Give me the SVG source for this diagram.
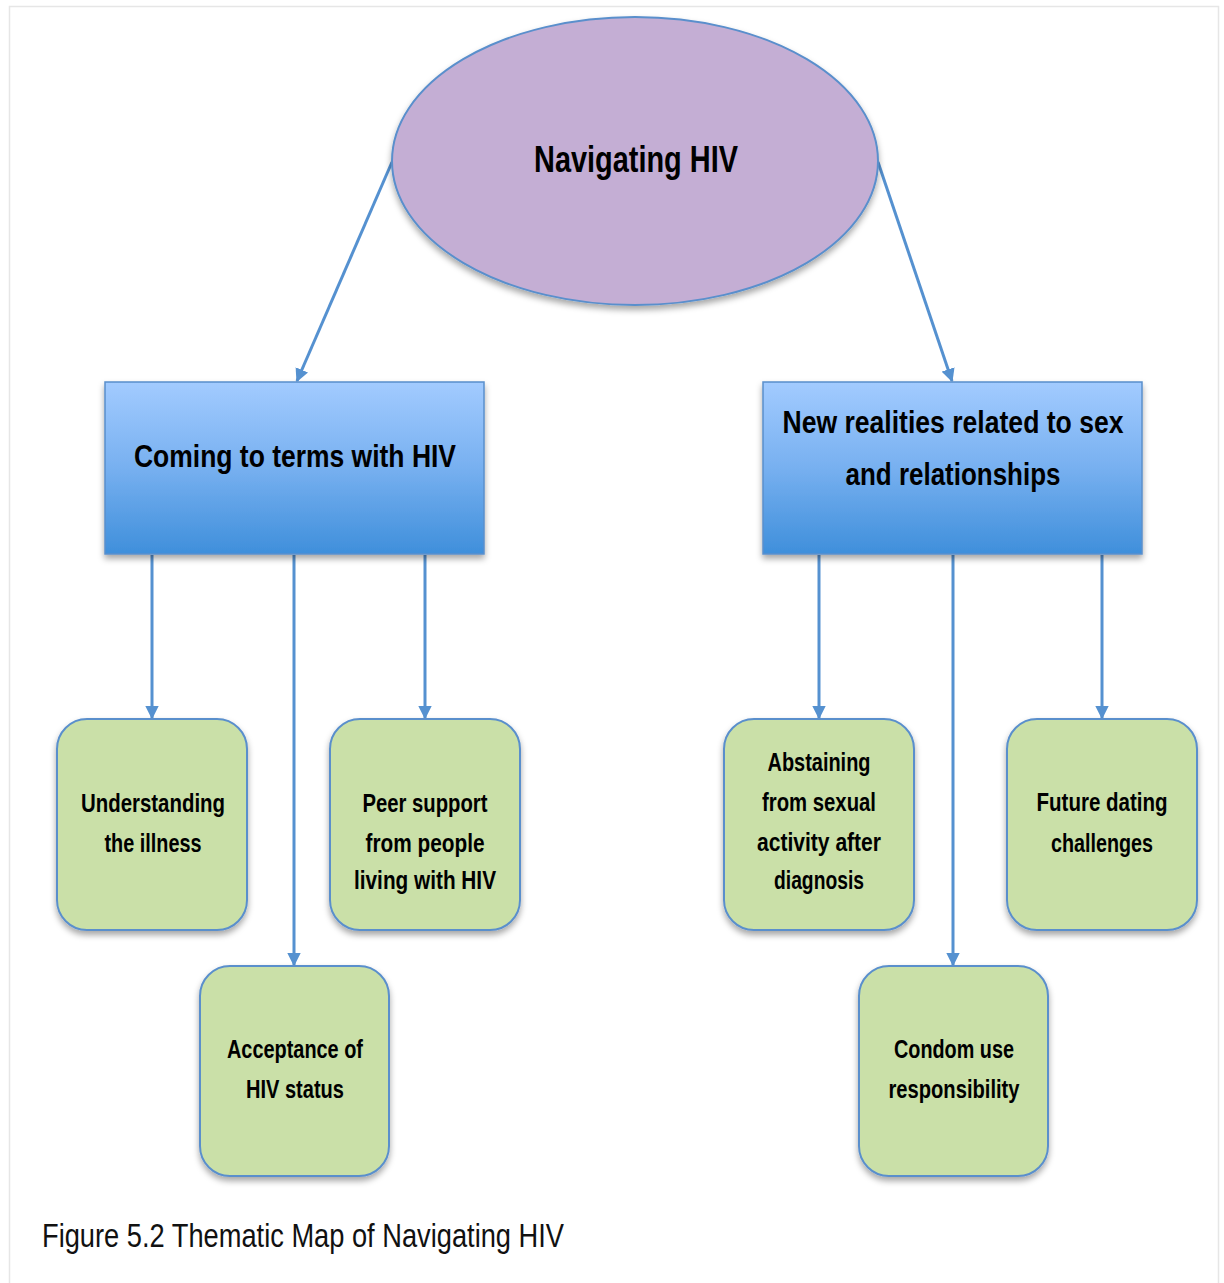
<svg xmlns="http://www.w3.org/2000/svg" width="1224" height="1283" viewBox="0 0 1224 1283">
<style>
.t{font-family:"Liberation Sans",Arial,sans-serif;font-weight:bold;fill:#000;text-anchor:middle}
.g{fill:#cae0a8;stroke:#5a8fcc;stroke-width:2}
.c{stroke:#5591d0;stroke-width:3;fill:none;marker-end:url(#ah)}
</style>
<defs>
<linearGradient id="bg" x1="0" y1="0" x2="0" y2="1">
<stop offset="0" stop-color="#a2cbff"/>
<stop offset="0.5" stop-color="#77b0f0"/>
<stop offset="1" stop-color="#3f8fdb"/>
</linearGradient>
<filter id="sh" x="-10%" y="-10%" width="125%" height="125%">
<feDropShadow dx="0" dy="4" stdDeviation="3" flood-color="#000" flood-opacity="0.35"/>
</filter>
<marker id="ah" viewBox="0 0 10 10" refX="9" refY="5" markerWidth="4.5" markerHeight="4.5" markerUnits="strokeWidth" orient="auto">
<path d="M0,0 L10,5 L0,10 z" fill="#5591d0"/>
</marker>
</defs>
<rect x="0" y="0" width="1224" height="1283" fill="#fff"/>
<path d="M9.5,1283 V6.5 H1218.5 V1283" fill="none" stroke="#e6e6e6" stroke-width="1.5"/>

<g id="connectors">
<line class="c" x1="392" y1="162" x2="297" y2="381"/>
<line class="c" x1="878" y1="162" x2="952" y2="381"/>
<line class="c" x1="152" y1="555" x2="152" y2="718"/>
<line class="c" x1="294" y1="555" x2="294" y2="965"/>
<line class="c" x1="425" y1="555" x2="425" y2="718"/>
<line class="c" x1="819" y1="555" x2="819" y2="718"/>
<line class="c" x1="953" y1="555" x2="953" y2="965"/>
<line class="c" x1="1102" y1="555" x2="1102" y2="718"/>
</g>

<g id="root">
<ellipse cx="635" cy="161" rx="243" ry="144" fill="#c4aed4" stroke="#5a8fcc" stroke-width="2" filter="url(#sh)"/>
<text class="t" x="636" y="172" font-size="36" textLength="204" lengthAdjust="spacingAndGlyphs">Navigating HIV</text>
</g>

<g id="theme1">
<rect x="105" y="382" width="379" height="172" fill="url(#bg)" stroke="#5a8fcc" stroke-width="1.5" filter="url(#sh)"/>
<text class="t" x="295" y="467" font-size="32" textLength="322" lengthAdjust="spacingAndGlyphs">Coming to terms with HIV</text>
</g>

<g id="theme2">
<rect x="763" y="382" width="379" height="172" fill="url(#bg)" stroke="#5a8fcc" stroke-width="1.5" filter="url(#sh)"/>
<text class="t" x="953" y="433" font-size="32" textLength="341" lengthAdjust="spacingAndGlyphs">New realities related to sex</text>
<text class="t" x="953" y="485" font-size="32" textLength="215" lengthAdjust="spacingAndGlyphs">and relationships</text>
</g>

<g id="understanding">
<rect class="g" x="57" y="719" width="190" height="211" rx="30" filter="url(#sh)"/>
<text class="t" x="153" y="812" font-size="26" textLength="144" lengthAdjust="spacingAndGlyphs">Understanding</text>
<text class="t" x="153" y="852" font-size="26" textLength="97" lengthAdjust="spacingAndGlyphs">the illness</text>
</g>

<g id="acceptance">
<rect class="g" x="200" y="966" width="189" height="210" rx="30" filter="url(#sh)"/>
<text class="t" x="295" y="1058" font-size="26" textLength="136" lengthAdjust="spacingAndGlyphs">Acceptance of</text>
<text class="t" x="295" y="1098" font-size="26" textLength="98" lengthAdjust="spacingAndGlyphs">HIV status</text>
</g>

<g id="peer">
<rect class="g" x="330" y="719" width="190" height="211" rx="30" filter="url(#sh)"/>
<text class="t" x="425" y="812" font-size="26" textLength="125" lengthAdjust="spacingAndGlyphs">Peer support</text>
<text class="t" x="425" y="852" font-size="26" textLength="119" lengthAdjust="spacingAndGlyphs">from people</text>
<text class="t" x="425" y="889" font-size="26" textLength="142" lengthAdjust="spacingAndGlyphs">living with HIV</text>
</g>

<g id="abstaining">
<rect class="g" x="724" y="719" width="190" height="211" rx="30" filter="url(#sh)"/>
<text class="t" x="819" y="771" font-size="26" textLength="103" lengthAdjust="spacingAndGlyphs">Abstaining</text>
<text class="t" x="819" y="811" font-size="26" textLength="114" lengthAdjust="spacingAndGlyphs">from sexual</text>
<text class="t" x="819" y="851" font-size="26" textLength="124" lengthAdjust="spacingAndGlyphs">activity after</text>
<text class="t" x="819" y="889" font-size="26" textLength="90" lengthAdjust="spacingAndGlyphs">diagnosis</text>
</g>

<g id="condom">
<rect class="g" x="859" y="966" width="189" height="210" rx="30" filter="url(#sh)"/>
<text class="t" x="954" y="1058" font-size="26" textLength="120" lengthAdjust="spacingAndGlyphs">Condom use</text>
<text class="t" x="954" y="1098" font-size="26" textLength="131" lengthAdjust="spacingAndGlyphs">responsibility</text>
</g>

<g id="future">
<rect class="g" x="1007" y="719" width="190" height="211" rx="30" filter="url(#sh)"/>
<text class="t" x="1102" y="811" font-size="26" textLength="131" lengthAdjust="spacingAndGlyphs">Future dating</text>
<text class="t" x="1102" y="852" font-size="26" textLength="102" lengthAdjust="spacingAndGlyphs">challenges</text>
</g>

<text x="42" y="1247" font-family="Liberation Sans,Arial,sans-serif" font-size="34" fill="#111" textLength="522" lengthAdjust="spacingAndGlyphs">Figure 5.2 Thematic Map of Navigating HIV</text>
</svg>
